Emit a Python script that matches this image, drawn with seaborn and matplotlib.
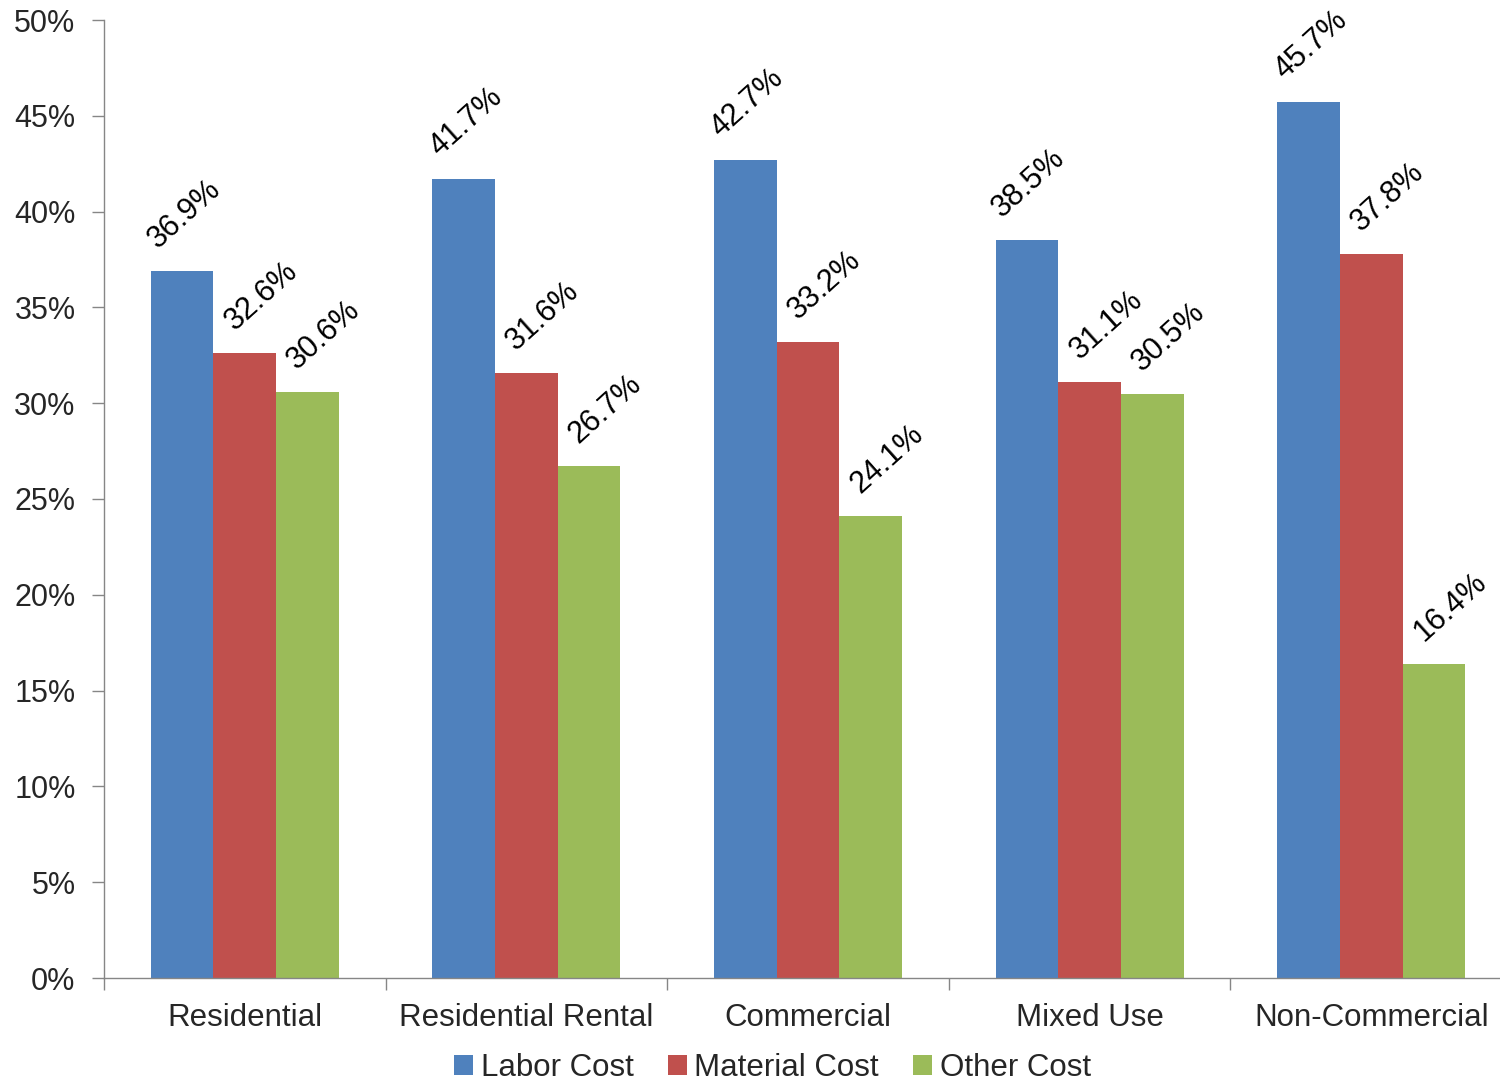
import matplotlib
matplotlib.use("Agg")
import matplotlib.pyplot as plt
from matplotlib.ticker import FuncFormatter, MultipleLocator
from matplotlib.patches import Patch
import seaborn as sns
import pandas as pd

categories = ["Residential", "Residential Rental", "Commercial", "Mixed Use", "Non-Commercial"]
series_names = ["Labor Cost", "Material Cost", "Other Cost"]
labor_cost = [36.9, 41.7, 42.7, 38.5, 45.7]
material_cost = [32.6, 31.6, 33.2, 31.1, 37.8]
other_cost = [30.6, 26.7, 24.1, 30.5, 16.4]
colors = ["#4F81BD", "#C0504D", "#9BBB59"]

rows = []
for name, vals in zip(series_names, [labor_cost, material_cost, other_cost]):
    for cat, v in zip(categories, vals):
        rows.append({"Category": cat, "Series": name, "Value": v})
df = pd.DataFrame(rows)

sns.set_theme(style="white")
plt.rcParams["font.family"] = ["Liberation Sans", "DejaVu Sans"]

fig = plt.figure(figsize=(15, 10.86), dpi=100)
ax = fig.add_axes([104 / 1500, 1 - 978 / 1086, (1512 - 104) / 1500, (978 - 20) / 1086])

sns.barplot(data=df, x="Category", y="Value", hue="Series", order=categories,
            hue_order=series_names, palette=colors, width=0.668, gap=0,
            saturation=1, linewidth=0, errorbar=None, legend=False, ax=ax)

ax.set_xlim(-0.5, len(categories) - 0.5)
ax.set_ylim(0, 50)
ax.yaxis.set_major_locator(MultipleLocator(5))
ax.yaxis.set_major_formatter(FuncFormatter(lambda v, p: f"{v:.0f}%"))
ax.set_xlabel("")
ax.set_ylabel("")

# category boundary ticks on the x axis, labels centred between them
ax.set_xticks([i - 0.5 for i in range(len(categories) + 1)], minor=False)
ax.set_xticklabels([])
ax.set_xticks(range(len(categories)), minor=True)
ax.set_xticklabels(categories, minor=True, fontsize=22.5)
ax.tick_params(axis="x", which="minor", bottom=False, length=0, pad=18)
ax.tick_params(axis="x", which="major", bottom=True, length=8.5, width=1,
               color="#868686", direction="out")
ax.tick_params(axis="y", left=True, length=8.5, width=1, color="#868686",
               direction="out", labelsize=22, pad=12)

for side in ["top", "right"]:
    ax.spines[side].set_visible(False)
for side in ["left", "bottom"]:
    ax.spines[side].set_color("#868686")
    ax.spines[side].set_linewidth(1)

# value labels, slanted; the second and third series are nudged right so they clear the taller bar
label_shift = [1.5, 12, 12]
for container, dx in zip(ax.containers, label_shift):
    for bar in container:
        h = bar.get_height()
        ax.annotate(f"{h:.1f}%", xy=(bar.get_x() + bar.get_width() / 2, h),
                    xytext=(dx, 41), textcoords="offset points",
                    ha="center", va="center", rotation=42, rotation_mode="anchor",
                    fontsize=22, color="black")

handles = [Patch(facecolor=c, edgecolor="none") for c in colors]
fig.legend(handles, series_names, loc="lower center", bbox_to_anchor=(0.515, 0.003),
           ncol=3, frameon=False, fontsize=22.5, handlelength=0.6, handleheight=0.6,
           handletextpad=0.25, columnspacing=1.1, borderpad=0, borderaxespad=0)

fig.savefig("out.png", dpi=100)
